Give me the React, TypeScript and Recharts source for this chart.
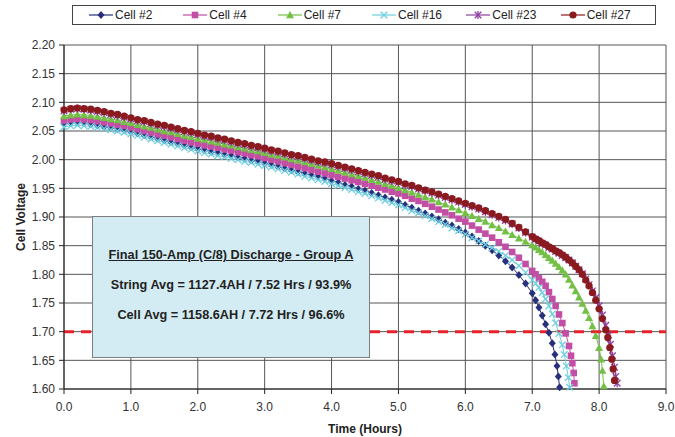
import React from 'react';
import { LineChart, Line, XAxis, YAxis, CartesianGrid, ReferenceLine } from 'recharts';

// hours sampled every 0.1 h up to 7.0, shared by every cell
const HOURS = [
  0.0, 0.1, 0.2, 0.3, 0.4, 0.5, 0.6, 0.7, 0.8, 0.9,
  1.0, 1.1, 1.2, 1.3, 1.4, 1.5, 1.6, 1.7, 1.8, 1.9,
  2.0, 2.1, 2.2, 2.3, 2.4, 2.5, 2.6, 2.7, 2.8, 2.9,
  3.0, 3.1, 3.2, 3.3, 3.4, 3.5, 3.6, 3.7, 3.8, 3.9,
  4.0, 4.1, 4.2, 4.3, 4.4, 4.5, 4.6, 4.7, 4.8, 4.9,
  5.0, 5.1, 5.2, 5.3, 5.4, 5.5, 5.6, 5.7, 5.8, 5.9,
  6.0, 6.1, 6.2, 6.3, 6.4, 6.5, 6.6, 6.7, 6.8, 6.9,
  7.0,
];

const CELL2_V = [
  2.062, 2.064, 2.065, 2.064, 2.062, 2.060, 2.058, 2.056, 2.054, 2.052,
  2.049, 2.046, 2.043, 2.040, 2.037, 2.034, 2.031, 2.028, 2.025, 2.022,
  2.019, 2.017, 2.014, 2.012, 2.009, 2.007, 2.004, 2.002, 1.999, 1.997,
  1.994, 1.991, 1.988, 1.985, 1.982, 1.979, 1.976, 1.973, 1.970, 1.967,
  1.963, 1.960, 1.956, 1.953, 1.949, 1.946, 1.942, 1.938, 1.934, 1.930,
  1.926, 1.921, 1.916, 1.911, 1.906, 1.901, 1.896, 1.890, 1.885, 1.879,
  1.873, 1.866, 1.858, 1.850, 1.842, 1.833, 1.823, 1.812, 1.799, 1.784,
  1.767,
];
const CELL2_TAIL_T = [7.05, 7.1, 7.15, 7.2, 7.25, 7.3, 7.34, 7.37, 7.39, 7.41];
const CELL2_TAIL_V = [1.755, 1.742, 1.728, 1.713, 1.698, 1.68, 1.66, 1.64, 1.622, 1.603];

const CELL4_V = [
  2.068, 2.070, 2.071, 2.070, 2.069, 2.067, 2.065, 2.063, 2.061, 2.059,
  2.056, 2.053, 2.050, 2.047, 2.044, 2.042, 2.039, 2.036, 2.033, 2.030,
  2.028, 2.025, 2.023, 2.021, 2.018, 2.016, 2.013, 2.011, 2.008, 2.006,
  2.003, 2.000, 1.997, 1.994, 1.991, 1.988, 1.985, 1.982, 1.979, 1.976,
  1.973, 1.970, 1.967, 1.964, 1.961, 1.958, 1.955, 1.951, 1.948, 1.944,
  1.941, 1.937, 1.932, 1.928, 1.923, 1.918, 1.913, 1.908, 1.903, 1.897,
  1.892, 1.885, 1.878, 1.871, 1.864, 1.856, 1.848, 1.839, 1.829, 1.818,
  1.806,
];
const CELL4_TAIL_T = [7.05, 7.1, 7.15, 7.2, 7.25, 7.3, 7.35, 7.4, 7.45, 7.5, 7.55, 7.58, 7.6, 7.62, 7.63];
const CELL4_TAIL_V = [1.8, 1.793, 1.787, 1.78, 1.769, 1.757, 1.745, 1.73, 1.715, 1.697, 1.675, 1.658, 1.645, 1.628, 1.61];

const CELL7_V = [
  2.076, 2.078, 2.079, 2.078, 2.077, 2.075, 2.073, 2.071, 2.069, 2.066,
  2.064, 2.061, 2.058, 2.056, 2.053, 2.050, 2.048, 2.045, 2.042, 2.040,
  2.037, 2.035, 2.032, 2.030, 2.027, 2.025, 2.022, 2.020, 2.017, 2.015,
  2.012, 2.009, 2.007, 2.004, 2.001, 1.999, 1.996, 1.993, 1.990, 1.987,
  1.984, 1.981, 1.978, 1.975, 1.972, 1.969, 1.965, 1.962, 1.958, 1.955,
  1.951, 1.947, 1.943, 1.939, 1.935, 1.931, 1.926, 1.922, 1.917, 1.912,
  1.907, 1.902, 1.897, 1.892, 1.886, 1.881, 1.875, 1.869, 1.863, 1.857,
  1.851,
];
const CELL7_TAIL_T = [7.05, 7.1, 7.15, 7.2, 7.25, 7.3, 7.35, 7.4, 7.45, 7.5, 7.55, 7.6, 7.65, 7.7, 7.75, 7.8, 7.85, 7.9, 7.95, 8.0, 8.03, 8.05, 8.07];
const CELL7_TAIL_V = [1.847, 1.843, 1.839, 1.834, 1.829, 1.824, 1.819, 1.813, 1.807, 1.8, 1.791, 1.781, 1.771, 1.76, 1.749, 1.737, 1.724, 1.71, 1.693, 1.672, 1.652, 1.632, 1.605];

const CELL16_V = [
  2.057, 2.059, 2.060, 2.059, 2.058, 2.056, 2.054, 2.052, 2.050, 2.048,
  2.045, 2.042, 2.039, 2.036, 2.033, 2.030, 2.027, 2.024, 2.021, 2.018,
  2.015, 2.012, 2.010, 2.007, 2.005, 2.002, 2.000, 1.997, 1.995, 1.992,
  1.990, 1.987, 1.984, 1.981, 1.978, 1.975, 1.971, 1.968, 1.965, 1.962,
  1.958, 1.955, 1.951, 1.948, 1.944, 1.941, 1.937, 1.933, 1.929, 1.925,
  1.921, 1.916, 1.911, 1.907, 1.902, 1.897, 1.892, 1.887, 1.881, 1.876,
  1.870, 1.864, 1.858, 1.852, 1.846, 1.840, 1.833, 1.825, 1.815, 1.803,
  1.790,
];
const CELL16_TAIL_T = [7.05, 7.1, 7.15, 7.2, 7.25, 7.3, 7.35, 7.4, 7.45, 7.48, 7.51, 7.54, 7.56];
const CELL16_TAIL_V = [1.784, 1.777, 1.768, 1.757, 1.745, 1.731, 1.715, 1.697, 1.677, 1.66, 1.64, 1.62, 1.603];

const CELL23_V = [
  2.085, 2.088, 2.089, 2.088, 2.086, 2.084, 2.082, 2.079, 2.077, 2.074,
  2.071, 2.068, 2.066, 2.063, 2.060, 2.058, 2.055, 2.052, 2.049, 2.047,
  2.044, 2.041, 2.039, 2.036, 2.034, 2.031, 2.028, 2.026, 2.023, 2.021,
  2.018, 2.015, 2.013, 2.010, 2.007, 2.005, 2.002, 1.999, 1.996, 1.994,
  1.991, 1.988, 1.985, 1.982, 1.979, 1.976, 1.973, 1.970, 1.966, 1.963,
  1.960, 1.956, 1.953, 1.949, 1.946, 1.942, 1.938, 1.934, 1.930, 1.926,
  1.922, 1.918, 1.914, 1.909, 1.904, 1.899, 1.894, 1.888, 1.881, 1.873,
  1.865,
];
const CELL23_TAIL_T = [7.05, 7.1, 7.15, 7.2, 7.25, 7.3, 7.35, 7.4, 7.45, 7.5, 7.55, 7.6, 7.65, 7.7, 7.75, 7.8, 7.85, 7.9, 7.95, 8.0, 8.05, 8.1, 8.14, 8.17, 8.2, 8.23, 8.25, 8.27];
const CELL23_TAIL_V = [1.861, 1.858, 1.854, 1.851, 1.847, 1.844, 1.84, 1.837, 1.833, 1.829, 1.825, 1.82, 1.814, 1.808, 1.801, 1.792, 1.782, 1.771, 1.759, 1.745, 1.729, 1.711, 1.694, 1.678, 1.658, 1.638, 1.622, 1.61];

const CELL27_V = [
  2.087, 2.089, 2.090, 2.089, 2.088, 2.086, 2.084, 2.081, 2.079, 2.076,
  2.073, 2.070, 2.068, 2.065, 2.062, 2.060, 2.057, 2.054, 2.051, 2.049,
  2.046, 2.043, 2.041, 2.038, 2.036, 2.033, 2.030, 2.028, 2.025, 2.023,
  2.020, 2.017, 2.015, 2.012, 2.009, 2.007, 2.004, 2.001, 1.998, 1.996,
  1.993, 1.990, 1.987, 1.984, 1.981, 1.978, 1.975, 1.972, 1.968, 1.965,
  1.962, 1.958, 1.955, 1.951, 1.947, 1.944, 1.940, 1.936, 1.932, 1.928,
  1.924, 1.920, 1.916, 1.911, 1.906, 1.901, 1.896, 1.889, 1.882, 1.874,
  1.866,
];
const CELL27_TAIL_T = [7.05, 7.1, 7.15, 7.2, 7.25, 7.3, 7.35, 7.4, 7.45, 7.5, 7.55, 7.6, 7.65, 7.7, 7.75, 7.8, 7.85, 7.9, 7.95, 8.0, 8.05, 8.1, 8.13, 8.16, 8.19, 8.21, 8.23];
const CELL27_TAIL_V = [1.862, 1.859, 1.855, 1.852, 1.848, 1.845, 1.841, 1.838, 1.834, 1.83, 1.825, 1.82, 1.814, 1.808, 1.8, 1.79, 1.78, 1.768, 1.755, 1.74, 1.723, 1.703, 1.69, 1.672, 1.652, 1.635, 1.615];

const X_TICKS = [0, 1, 2, 3, 4, 5, 6, 7, 8, 9];
const Y_TICKS = [1.6, 1.65, 1.7, 1.75, 1.8, 1.85, 1.9, 1.95, 2.0, 2.05, 2.1, 2.15, 2.2];
const CUTOFF_VOLTS = 1.7;

const NOTE_LINES = [
  'Final 150-Amp (C/8) Discharge - Group A',
  'String Avg = 1127.4AH / 7.52 Hrs / 93.9%',
  'Cell Avg = 1158.6AH / 7.72 Hrs / 96.6%',
];

const FONT = '"Liberation Sans", Arial, sans-serif';

type Shape = 'diamond' | 'square' | 'triangle' | 'cross' | 'star' | 'circle';

const buildSeries = (volts: number[], tailT: number[], tailV: number[]) =>
  HOURS.map((t, i) => ({ t, v: volts[i] })).concat(tailT.map((t, i) => ({ t, v: tailV[i] })));

const SERIES: { name: string; color: string; shape: Shape; data: { t: number; v: number }[] }[] = [
  { name: 'Cell #2', color: '#28307c', shape: 'diamond', data: buildSeries(CELL2_V, CELL2_TAIL_T, CELL2_TAIL_V) },
  { name: 'Cell #4', color: '#c24ea6', shape: 'square', data: buildSeries(CELL4_V, CELL4_TAIL_T, CELL4_TAIL_V) },
  { name: 'Cell #7', color: '#74c046', shape: 'triangle', data: buildSeries(CELL7_V, CELL7_TAIL_T, CELL7_TAIL_V) },
  { name: 'Cell #16', color: '#6fcfe0', shape: 'cross', data: buildSeries(CELL16_V, CELL16_TAIL_T, CELL16_TAIL_V) },
  { name: 'Cell #23', color: '#8e3f9f', shape: 'star', data: buildSeries(CELL23_V, CELL23_TAIL_T, CELL23_TAIL_V) },
  { name: 'Cell #27', color: '#8a1a1e', shape: 'circle', data: buildSeries(CELL27_V, CELL27_TAIL_T, CELL27_TAIL_V) },
];

const Marker = ({ shape, color, cx, cy }: { shape: Shape; color: string; cx: number; cy: number }) => {
  switch (shape) {
    case 'diamond':
      return <polygon points={`${cx},${cy - 4} ${cx + 3.5},${cy} ${cx},${cy + 4} ${cx - 3.5},${cy}`} fill={color} />;
    case 'square':
      return <rect x={cx - 3.3} y={cy - 3.3} width={6.6} height={6.6} fill={color} />;
    case 'triangle':
      return <polygon points={`${cx},${cy - 4} ${cx + 4},${cy + 3.2} ${cx - 4},${cy + 3.2}`} fill={color} />;
    case 'cross':
      return (
        <g stroke={color} strokeWidth={1.3}>
          <line x1={cx - 3.3} y1={cy - 3.3} x2={cx + 3.3} y2={cy + 3.3} />
          <line x1={cx - 3.3} y1={cy + 3.3} x2={cx + 3.3} y2={cy - 3.3} />
        </g>
      );
    case 'star':
      return (
        <g stroke={color} strokeWidth={1.3}>
          <line x1={cx - 3.3} y1={cy - 3.3} x2={cx + 3.3} y2={cy + 3.3} />
          <line x1={cx - 3.3} y1={cy + 3.3} x2={cx + 3.3} y2={cy - 3.3} />
          <line x1={cx} y1={cy - 4} x2={cx} y2={cy + 4} />
        </g>
      );
    default:
      return <circle cx={cx} cy={cy} r={3.6} fill={color} />;
  }
};

const makeDot = (shape: Shape, color: string) => (props: any) => {
  const { cx, cy, index } = props;
  if (cx == null || cy == null) return <g key={`${shape}-${index}`} />;
  return (
    <g key={`${shape}-${index}`}>
      <Marker shape={shape} color={color} cx={cx} cy={cy} />
    </g>
  );
};

const ChartLegend = () => (
  <div
    style={{
      position: 'absolute', left: 72, top: 5, width: 584, height: 20,
      border: '1px solid #444', background: '#fff', display: 'flex', alignItems: 'center',
      fontFamily: FONT, fontSize: 12, color: '#222', boxSizing: 'border-box', paddingLeft: 16,
    }}
  >
    {SERIES.map((s) => (
      <div key={s.name} style={{ width: 94.4, display: 'flex', alignItems: 'center' }}>
        <svg width={24} height={10} style={{ marginRight: 2 }}>
          <line x1={0} y1={5} x2={24} y2={5} stroke={s.color} strokeWidth={1.2} />
          <Marker shape={s.shape} color={s.color} cx={12} cy={5} />
        </svg>
        <span>{s.name}</span>
      </div>
    ))}
  </div>
);

const NoteBox = () => (
  <div
    style={{
      position: 'absolute', left: 92, top: 216, width: 278, height: 142,
      background: '#d3ebf2', border: '1px solid #7d7d7d', boxSizing: 'border-box',
      fontFamily: FONT, fontWeight: 'bold', fontSize: 12.7, color: '#222', textAlign: 'center',
    }}
  >
    <div style={{ marginTop: 31, textDecoration: 'underline' }}>{NOTE_LINES[0]}</div>
    <div style={{ marginTop: 16 }}>{NOTE_LINES[1]}</div>
    <div style={{ marginTop: 16 }}>{NOTE_LINES[2]}</div>
  </div>
);

const App: React.FC = () => {
  return (
    <div style={{ position: 'relative', width: 675, height: 437, background: '#fff' }}>
      <style>{'body { margin: 0; } .recharts-surface { overflow: visible; }'}</style>
      <LineChart width={675} height={437} margin={{ top: 45, right: 9, bottom: 0, left: 0 }}>
        <CartesianGrid stroke="#555" strokeWidth={1} />
        <XAxis
          type="number"
          dataKey="t"
          domain={[0, 9]}
          ticks={X_TICKS}
          interval={0}
          height={48}
          tickSize={5}
          tickMargin={8}
          stroke="#222"
          tick={{ fill: '#333', fontSize: 12, fontFamily: FONT }}
          tickFormatter={(v: number) => v.toFixed(1)}
          allowDuplicatedCategory={false}
          label={{
            content: ({ viewBox }: any) => (
              <text x={viewBox.x + viewBox.width / 2} y={viewBox.y + 44} textAnchor="middle"
                fontFamily={FONT} fontSize={12} fontWeight="bold" fill="#222">Time (Hours)</text>
            ),
          }}
        />
        <YAxis
          type="number"
          domain={[1.6, 2.2]}
          ticks={Y_TICKS}
          interval={0}
          width={64}
          tickSize={5}
          tickMargin={4}
          stroke="#222"
          tick={{ fill: '#333', fontSize: 12, fontFamily: FONT }}
          tickFormatter={(v: number) => v.toFixed(2)}
          label={{
            content: ({ viewBox }: any) => {
              const cx = viewBox.x + 21;
              const cy = viewBox.y + viewBox.height / 2;
              return (
                <text x={cx} y={cy} transform={`rotate(-90 ${cx} ${cy})`} textAnchor="middle" dominantBaseline="central"
                  fontFamily={FONT} fontSize={12} fontWeight="bold" fill="#222">Cell Voltage</text>
              );
            },
          }}
        />
        {SERIES.map((s) => (
          <Line
            key={s.name}
            data={s.data}
            dataKey="v"
            name={s.name}
            type="linear"
            stroke={s.color}
            strokeWidth={1}
            dot={makeDot(s.shape, s.color)}
            activeDot={false}
            isAnimationActive={false}
          />
        ))}
        <ReferenceLine y={CUTOFF_VOLTS} stroke="#e8202a" strokeWidth={3} strokeDasharray="10 7" />
      </LineChart>
      <ChartLegend />
      <NoteBox />
    </div>
  );
};

export default App;
